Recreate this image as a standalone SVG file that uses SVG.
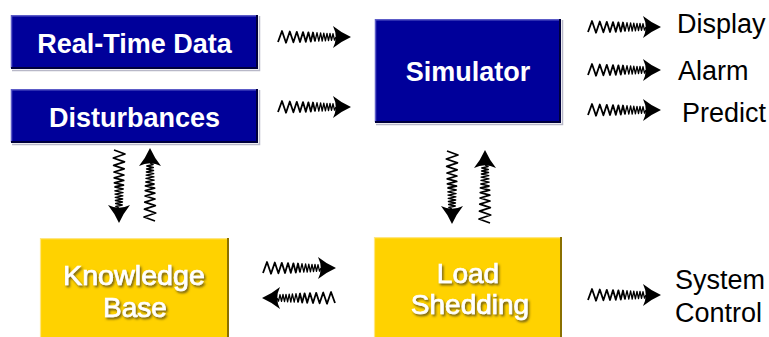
<svg xmlns="http://www.w3.org/2000/svg" xmlns:xlink="http://www.w3.org/1999/xlink" width="769" height="337" viewBox="0 0 769 337">
<style>
.blue{fill:#00009A}
.hi{stroke:#5C5CC8;stroke-width:1.5;fill:none}
.lo{stroke:#00003C;stroke-width:2;fill:none}
.sh{stroke:#B8B8C8;stroke-width:1.5;fill:none}
.yel{fill:#FFD200}
.ylo{stroke:#8A7000;stroke-width:2;fill:none}
.yhi{stroke:#FFE680;stroke-width:1.2;fill:none}
.bt{font-family:"Liberation Sans",Arial,sans-serif;font-weight:bold;font-size:27px;fill:#fff;text-anchor:middle}
.yt{font-family:"Liberation Sans",Arial,sans-serif;font-size:28px;fill:#fff;stroke:#fff;stroke-width:0.7;text-anchor:middle;filter:url(#emb)}
.lbl{font-family:"Liberation Sans",Arial,sans-serif;font-size:27px;fill:#000}
.zig{fill:none;stroke:#000;stroke-width:1.8;stroke-linejoin:round}
.zig2{fill:none;stroke:#000;stroke-width:1.3;stroke-linejoin:round}
.head{fill:#000}
</style>
<defs>
<filter id="emb" x="-10%" y="-20%" width="130%" height="150%">
<feDropShadow dx="1.5" dy="2" stdDeviation="0.9" flood-color="#5A4C18" flood-opacity="0.85"/>
</filter>
<g id="warrow">
<path class="zig" d="M0,5 L4,-6 L8,5.7 L11.8,-5.5 L15.4,5.3 L18.8,-5.2 L22,5 L25,-4.9 L27.8,4.8 L30.4,-4.7 L32.8,4.6 L35,-4.5 L37,4.4"/>
<path class="zig2" d="M37,4.4 L39,-4.3 L40.8,4.2 L42.6,-4.1 L44.2,4 L45.8,-3.9 L47.4,3.8 L49,-3.7 L50.5,3.6 L52,-3.5 L53.5,3.4 L55,-3.3 L56.5,3.2 L58,0"/>
<path class="head" d="M55,-11 Q63,-4.5 73,0 Q63,4.5 55,11 Q60.5,0 55,-11 Z"/>
</g>
</defs>
<rect width="769" height="337" fill="#fff"/>

<g id="realtime">
<rect class="blue" x="11" y="15" width="247" height="54"/>
<path class="sh" d="M12,70.5 H259.5 V16"/>
<path class="hi" d="M11.5,68 V15.7 H257"/>
<path class="lo" d="M11,68 H257 V15"/>
<text class="bt" x="134.5" y="53">Real-Time Data</text>
</g>

<g id="disturbances">
<rect class="blue" x="11" y="89" width="247" height="54"/>
<path class="sh" d="M12,144.5 H259.5 V90"/>
<path class="hi" d="M11.5,142 V89.7 H257"/>
<path class="lo" d="M11,142 H257 V89"/>
<text class="bt" x="134.5" y="127">Disturbances</text>
</g>

<g id="simulator">
<rect class="blue" x="375" y="19" width="186" height="104"/>
<path class="sh" d="M376,124.5 H562.5 V20"/>
<path class="hi" d="M375.5,122 V19.7 H560"/>
<path class="lo" d="M375,122 H560 V19"/>
<text class="bt" x="468" y="81">Simulator</text>
</g>

<g id="knowledge">
<rect class="yel" x="40" y="238" width="189" height="99"/>
<path class="yhi" d="M40.5,337 V238.6 H228"/>
<path class="ylo" d="M228,238 V337"/>
<text class="yt" x="134" y="285" textLength="142" lengthAdjust="spacingAndGlyphs">Knowledge</text>
<text class="yt" x="135" y="317">Base</text>
</g>

<g id="loadshedding">
<rect class="yel" x="374" y="237" width="188" height="100"/>
<path class="yhi" d="M374.5,337 V237.6 H561"/>
<path class="ylo" d="M561,237 V337"/>
<text class="yt" x="468" y="283">Load</text>
<text class="yt" x="470" y="314">Shedding</text>
</g>

<g id="outputs">
<text class="lbl" x="677" y="33">Display</text>
<text class="lbl" x="678" y="80">Alarm</text>
<text class="lbl" x="682" y="122">Predict</text>
<text class="lbl" x="675" y="289">System</text>
<text class="lbl" x="675" y="322">Control</text>
</g>

<g id="connectors">
<use xlink:href="#warrow" transform="translate(278,37)"/>
<use xlink:href="#warrow" transform="translate(278,107)"/>
<use xlink:href="#warrow" transform="translate(588,27)"/>
<use xlink:href="#warrow" transform="translate(588,70)"/>
<use xlink:href="#warrow" transform="translate(588,110)"/>
<use xlink:href="#warrow" transform="translate(588,295)"/>
<use xlink:href="#warrow" transform="translate(263,268)"/>
<use xlink:href="#warrow" transform="translate(335,298) scale(-1,1)"/>
<use xlink:href="#warrow" transform="translate(119,150) rotate(90)"/>
<use xlink:href="#warrow" transform="translate(150,221) rotate(-90)"/>
<use xlink:href="#warrow" transform="translate(452,151) rotate(90)"/>
<use xlink:href="#warrow" transform="translate(485,223) rotate(-90)"/>
</g>
</svg>
